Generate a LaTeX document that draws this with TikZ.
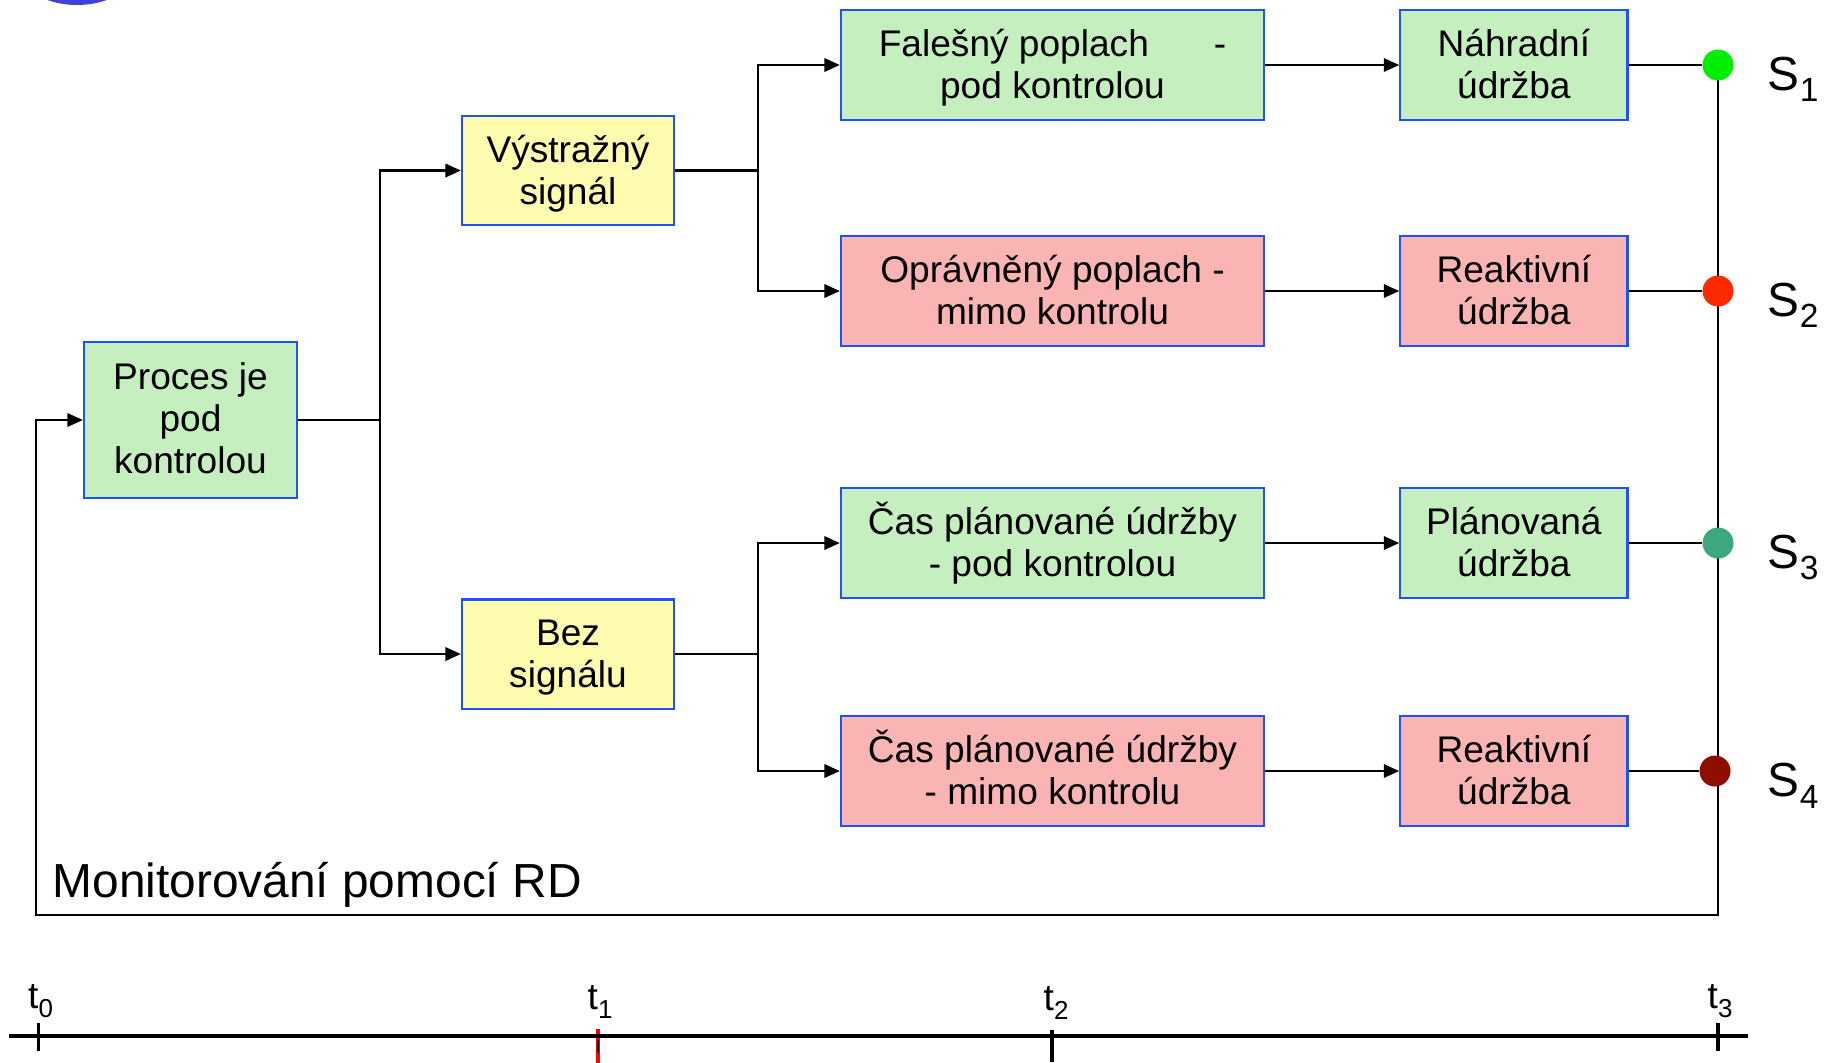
\documentclass[tikz,border=0pt]{standalone}
\usepackage{fontspec}
\setmainfont{Liberation Sans}
\usepackage{graphicx}
\usepackage{tikz}
\usetikzlibrary{positioning, arrows.meta, backgrounds}

\definecolor{boxgreen}{HTML}{C6EFC0}
\definecolor{boxred}{HTML}{FAB4B4}
\definecolor{boxyellow}{HTML}{FFFBAF}
\definecolor{boxblue}{HTML}{2050FF}
\definecolor{cornerblue}{RGB}{65,65,215}
\definecolor{sone}{HTML}{00EE00}
\definecolor{stwo}{HTML}{FF2A00}
\definecolor{sthree}{HTML}{3DA77E}
\definecolor{sfour}{HTML}{8E0E00}

\newcommand{\sidx}[1]{\raisebox{-0.25em}{\scalebox{0.7}{#1}}}

\begin{document}
\begin{tikzpicture}[
    x=0.01cm, y=-0.01cm,
    node distance=1.34cm,
    box/.style={draw=boxblue, line width=0.6pt, minimum height=1.1cm, inner sep=0pt, align=center, font=\fontsize{10.55}{11.95}\selectfont,
        text height=22.9pt, text depth=3.6pt},
    arr/.style={-{Triangle[length=4.4pt, width=3.8pt]}, line width=0.65pt},
    wire/.style={line width=0.4pt},
    dot/.style={circle, minimum size=0.31cm, inner sep=0pt},
    slabel/.style={font=\fontsize{13.6}{16}\selectfont, anchor=base west, inner sep=0pt},
    tlabel/.style={font=\fontsize{10.55}{12}\selectfont, anchor=base west, inner sep=0pt},
]
\useasboundingbox (0,0) rectangle (1831,1062);

% corner blob, mostly off the page
\fill[cornerblue] (77,-85) circle[radius=90];

% Left: start state
\node[box, fill=boxgreen, minimum width=2.13cm, minimum height=1.56cm, text height=34pt] (proc) at (190.5,420) {Proces je\\pod\\kontrolou};

% Signal / no signal
\node[box, fill=boxyellow, minimum width=2.12cm, minimum height=1.09cm] (warn) at (568,170.5) {Výstražný\\signál};
\node[box, fill=boxyellow, minimum width=2.12cm, minimum height=1.09cm] (nosig) at (568,654) {Bez\\signálu};

% Middle column
\node[box, fill=boxgreen, minimum width=4.23cm] (false) at (1052.5,65) {Falešný poplach\hspace{1.75em}-\\pod kontrolou};
\node[box, fill=boxred, minimum width=4.23cm] (valid) at (1052.5,291) {Oprávněný poplach -\\mimo kontrolu};
\node[box, fill=boxgreen, minimum width=4.23cm] (planok) at (1052.5,543) {Čas plánované údržby\\- pod kontrolou};
\node[box, fill=boxred, minimum width=4.23cm] (planbad) at (1052.5,771) {Čas plánované údržby\\- mimo kontrolu};

% Right column: maintenance kind
\node[box, fill=boxgreen, minimum width=2.27cm, right=of false] (spare) {Náhradní\\údržba};
\node[box, fill=boxred, minimum width=2.27cm, right=of valid] (react) {Reaktivní\\údržba};
\node[box, fill=boxgreen, minimum width=2.27cm, right=of planok] (plan) {Plánovaná\\údržba};
\node[box, fill=boxred, minimum width=2.27cm, right=of planbad] (react2) {Reaktivní\\údržba};

% End states
\coordinate (xr) at (1718,0);
\node[dot, fill=sone] (d1) at (spare -| xr) {};
\node[dot, fill=stwo] (d2) at (react -| xr) {};
\node[dot, fill=sthree] (d3) at (plan -| xr) {};
\node[dot, fill=sfour, xshift=-0.03cm] (d4) at (react2 -| xr) {};

\node[slabel] (s1) at ([xshift=0.33cm, yshift=-0.25cm]d1.east) {S\sidx{1}};
\node[slabel] (s2) at ([xshift=0.33cm, yshift=-0.25cm]d2.east) {S\sidx{2}};
\node[slabel] (s3) at ([xshift=0.33cm, yshift=-0.25cm]d3.east) {S\sidx{3}};
\node[slabel] (s4) at ([xshift=0.36cm, yshift=-0.25cm]d4.east) {S\sidx{4}};

% Branching
\draw[arr] (proc.east) -- ++(82,0) |- (warn.west);
\draw[arr] (proc.east) -- ++(82,0) |- (nosig.west);
\draw[arr] (warn.east) -- ++(83,0) |- (false.west);
\draw[arr] (warn.east) -- ++(83,0) |- (valid.west);
\draw[arr] (nosig.east) -- ++(83,0) |- (planok.west);
\draw[arr] (nosig.east) -- ++(83,0) |- (planbad.west);

\draw[arr] (false) -- (spare);
\draw[arr] (valid) -- (react);
\draw[arr] (planok) -- (plan);
\draw[arr] (planbad) -- (react2);

% Back to start
\coordinate (bottom) at (1718,915);
\begin{scope}[on background layer]
\draw[wire] (spare) -- (d1);
\draw[wire] (react) -- (d2);
\draw[wire] (plan) -- (d3);
\draw[wire] (react2) -- (d4);
\draw[arr, line width=0.55pt] (d1.center) -- (bottom) -| ([xshift=-0.47cm]proc.west) -- (proc.west);
\end{scope}

\node[font=\fontsize{13.6}{16}\selectfont, anchor=base west, inner sep=0pt] (monit) at (52,897) {Monitorování pomocí RD};

% Time axis
\coordinate (t0) at (38.5,1036);
\coordinate (t1) at (598,1036);
\coordinate (t2) at (1052,1036);
\coordinate (t3) at (1718,1036);

\draw[red, line width=1.3pt] ([yshift=0.07cm]t1) -- ([yshift=-0.3cm]t1);
\draw[line width=0.7pt] ([yshift=-0.04cm]t1) -- ([yshift=-0.17cm]t1);
\draw[line width=1.4pt] (9,1036) -- (1748,1036);
\draw[line width=1.1pt] ([yshift=0.13cm]t0) -- ([yshift=-0.15cm]t0);
\draw[line width=1.1pt] ([yshift=0.06cm]t2) -- ([yshift=-0.26cm]t2);
\draw[line width=1.1pt] ([yshift=0.13cm]t3) -- ([yshift=-0.15cm]t3);

\node[tlabel] (l0) at ([xshift=-0.11cm, yshift=0.28cm]t0) {t\sidx{0}};
\node[tlabel] (l1) at ([xshift=-0.11cm, yshift=0.27cm]t1) {t\sidx{1}};
\node[tlabel] (l2) at ([xshift=-0.09cm, yshift=0.26cm]t2) {t\sidx{2}};
\node[tlabel] (l3) at ([xshift=-0.11cm, yshift=0.28cm]t3) {t\sidx{3}};

\end{tikzpicture}
\end{document}
